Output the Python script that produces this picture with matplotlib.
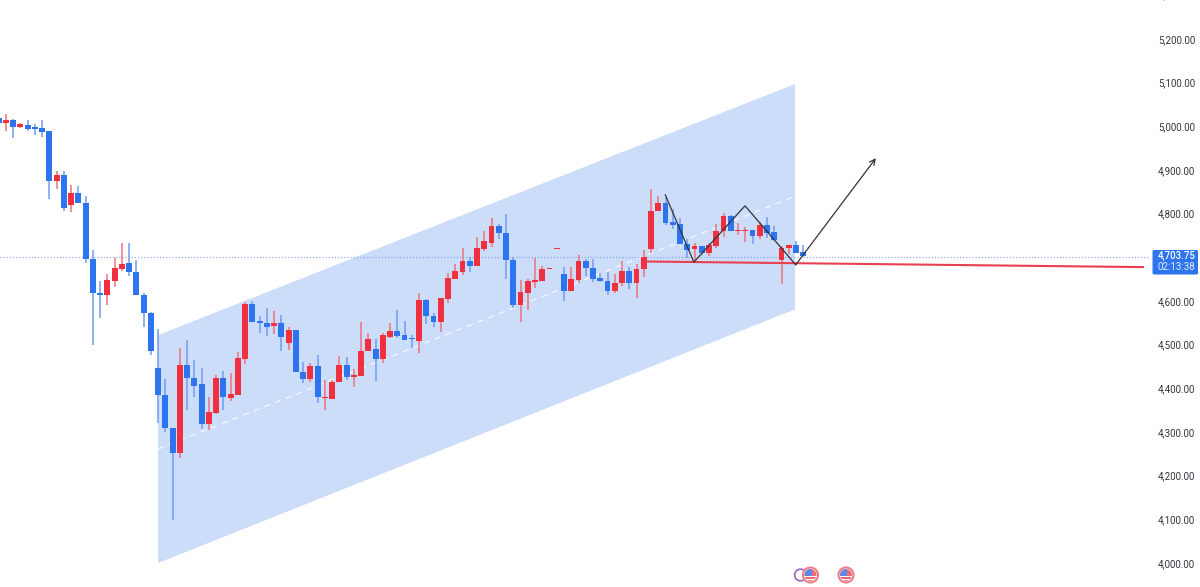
import matplotlib
matplotlib.use("Agg")
import matplotlib.pyplot as plt
from matplotlib.patches import Polygon, Circle, Rectangle, FancyBboxPatch

plt.rcParams['font.family'] = ['Roboto', 'DejaVu Sans']

highs = [5023,5028,5016,5007,5014,5005,5014,4989,4898,4898,4866,4863,4840,4717,4645,4662,4698,4733,4733,4694,
         4618,4575,4536,4421,4309,4492,4510,4465,4446,4380,4430,4439,4435,4483,4597,4600,4565,4584,4577,4568,
         4540,4533,4460,4458,4476,4419,4419,4474,4472,4444,4552,4526,4513,4526,4549,4579,4554,4522,4618,4604,
         4572,4607,4664,4685,4721,4700,4746,4760,4790,4776,4799,4700,4648,4650,4698,4680,4675,4721,4677,4677,
         4705,4696,4696,4664,4666,4662,4691,4677,4684,4717,4856,4840,4838,4810,4790,4742,4733,4726,4733,4776,
         4801,4797,4778,4769,4762,4781,4792,4771,4726,4728,4737,4728]
lows = [5003,4989,4973,4996,4989,4980,4975,4833,4856,4806,4804,4824,4687,4499,4561,4591,4632,4668,4657,4614,
        4540,4476,4320,4300,4098,4240,4350,4380,4307,4304,4341,4350,4371,4385,4455,4552,4526,4520,4524,4485,
        4488,4437,4412,4414,4366,4350,4375,4414,4419,4403,4428,4485,4417,4458,4515,4515,4510,4492,4481,4547,
        4540,4529,4595,4650,4659,4666,4680,4714,4724,4742,4650,4584,4552,4579,4629,4645,4673,4719,4600,4623,
        4641,4657,4643,4643,4614,4618,4634,4627,4607,4655,4710,4806,4774,4765,4730,4698,4689,4705,4703,4721,
        4746,4760,4751,4735,4730,4742,4744,4737,4639,4707,4710,4701]
opens = [5019,5007,5014,4998,5003,4997,4996,4989,4875,4889,4820,4847,4824,4696,4618,4614,4645,4673,4687,4666,
         4614,4573,4446,4385,4309,4252,4453,4423,4410,4318,4343,4423,4378,4385,4467,4593,4554,4549,4542,4549,
         4504,4533,4437,4421,4451,4378,4375,4414,4453,4426,4428,4485,4490,4467,4517,4531,4522,4515,4508,4602,
         4565,4552,4604,4650,4666,4691,4680,4719,4733,4771,4755,4694,4591,4618,4643,4645,4673,4719,4662,4623,
         4648,4691,4675,4653,4645,4623,4641,4668,4641,4673,4719,4806,4824,4781,4776,4730,4719,4726,4710,4726,
         4760,4794,4760,4760,4762,4749,4774,4758,4694,4721,4728,4712]
closes = [5007,5014,4998,5005,4994,4995,4987,4875,4889,4813,4847,4824,4696,4618,4614,4648,4675,4684,4666,4614,
          4573,4485,4385,4309,4252,4453,4423,4405,4318,4346,4423,4380,4387,4469,4593,4552,4549,4540,4549,4517,
          4533,4437,4421,4451,4380,4380,4414,4453,4426,4430,4485,4513,4467,4522,4531,4520,4510,4512,4602,4565,
          4552,4607,4653,4668,4691,4680,4721,4737,4771,4755,4694,4591,4620,4645,4648,4673,4675,4721,4623,4650,
          4691,4675,4650,4645,4623,4641,4668,4641,4673,4701,4806,4824,4778,4774,4730,4717,4726,4710,4728,4760,
          4794,4760,4762,4762,4749,4774,4755,4739,4721,4728,4710,4703.75]

last_price = 4703.75
countdown = "02:13:38"
tick_prices = [5300,5200,5100,5000,4900,4800,4700,4600,4500,4400,4300,4200,4100,4000]

channel_x = [21.99, 109.85]
channel_top = [4522, 5097]
channel_mid = [4261, 4840]
channel_bot = [4000, 4581]
zig_x = [91.96, 95.9, 102.95, 109.95, 121.0]
zig_y = [4843, 4689, 4818, 4683, 4927]
support_x = [89.17, 158.0]
support_y = [4690.5, 4677.6]

BLUE, RED = '#2F74EF', '#F0303F'
WICK_BLUE, WICK_RED = '#6F9CF2', '#F0707C'
TICK_SIZE = 7.0

W, H = 1200, 587
fig = plt.figure(figsize=(W/100, H/100), dpi=100, facecolor='white')
ax = fig.add_axes([0, 0, 1150/W, 1])
ax.set_facecolor('none')
ax.set_xlim(0.193, 158.814)
ax.set_ylim(3945.1, 5289.3)
for s in ax.spines.values():
    s.set_visible(False)
ax.set_xticks([])
ax.yaxis.tick_right()
vis = [p for p in tick_prices if p < 5289]
ax.set_yticks(vis)
ax.set_yticklabels([f"{p:,.2f}" for p in vis], fontsize=TICK_SIZE, color='#34343c', va='center_baseline')
ax.tick_params(axis='y', length=0, pad=5.6)
ax.text(1158/1150, 5300, f"{tick_prices[0]:,.2f}", transform=ax.get_yaxis_transform(),
        fontsize=TICK_SIZE, color='#34343c', va='center', ha='left', clip_on=False)

# channel
ax.add_patch(Polygon([(channel_x[0], channel_top[0]), (channel_x[1], channel_top[1]),
                      (channel_x[1], channel_bot[1]), (channel_x[0], channel_bot[0])],
                     closed=True, fc='#CCDDFA', ec='none', zorder=1))
ax.plot(channel_x, channel_mid, color='white', lw=1.1, ls=(0, (4, 3.5)), alpha=.7, zorder=1.5)
# current price line
ax.axhline(last_price - 2, color='#6A8FEE', lw=0.9, ls=(0, (1, 1.5)), alpha=.7, zorder=1.6)

# candles
for i, (o, h, l, c) in enumerate(zip(opens, highs, lows, closes)):
    up = c >= o
    ax.vlines(i, l, h, color=WICK_RED if up else WICK_BLUE, lw=1.1, zorder=2)
    top, bot = max(o, c), min(o, c)
    ax.add_patch(Rectangle((i - 0.4, bot), 0.8, max(top - bot, 2.5),
                           fc=RED if up else BLUE, ec='none', zorder=3))

# drawings
ax.plot(support_x, support_y, color='#E8404F', lw=1.5, zorder=4, solid_capstyle='butt')
ax.plot(zig_x[:-1], zig_y[:-1], color='#33333b', lw=0.9, zorder=5, solid_joinstyle='miter')
ax.annotate('', xy=(zig_x[-1], zig_y[-1]), xytext=(zig_x[-2], zig_y[-2]), zorder=5,
            arrowprops=dict(arrowstyle='->,head_length=0.4,head_width=0.2', color='#33333b',
                            lw=0.9, shrinkA=0, shrinkB=0))

# overlay in pixel space: price badge and calendar icons
ov = fig.add_axes([0, 0, 1, 1], facecolor='none')
ov.set_xlim(0, W)
ov.set_ylim(H, 0)
ov.axis('off')
ov.add_patch(FancyBboxPatch((1152.5, 250), 45.5, 24.5, boxstyle='round,pad=0,rounding_size=1.5',
                            fc='#2F74EF', ec='none'))
ov.text(1176.5, 256, f"{last_price:,.2f}", color='white', fontsize=TICK_SIZE, fontweight='medium',
        ha='center', va='center')
ov.text(1176.5, 267, countdown, color='#E4EDFD', fontsize=TICK_SIZE, ha='center', va='center')

def flag(cx, cy, r=7.5):
    ov.add_patch(Circle((cx, cy), r, fc='white', ec='#F07C84', lw=1.5, zorder=3))
    clip = Circle((cx, cy), r - 1.6, transform=ov.transData)
    for yy in [cy - 1, cy + 2, cy + 5]:
        ov.add_patch(Rectangle((cx - r, yy), 2 * r, 1.7, fc='#EE6A72', ec='none', zorder=4, clip_path=clip))
    ov.add_patch(Rectangle((cx - r, cy - r), 2 * r, r, fc='#EE6A72', ec='none', zorder=4, clip_path=clip))
    ov.add_patch(Rectangle((cx - r, cy - r), r + 1, r + 0.5, fc='#5C88E8', ec='none', zorder=5, clip_path=clip))

ov.add_patch(Circle((800.5, 575), 5.8, fc='white', ec='#9C6FC6', lw=1.3, zorder=2))
flag(810.5, 575)
flag(846, 575)

fig.savefig('out.png', dpi=100, facecolor='white')
